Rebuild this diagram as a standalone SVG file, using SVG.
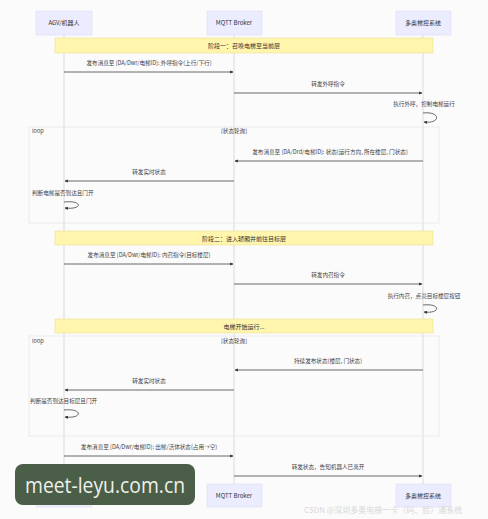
<svg xmlns="http://www.w3.org/2000/svg" width="488" height="519" viewBox="0 0 488 519">
<defs>
<marker id="ah" viewBox="0 0 10 10" refX="9" refY="5" markerWidth="4" markerHeight="4" orient="auto-start-reverse">
<path d="M0,0 L10,5 L0,10 z" fill="#333"/>
</marker>
<style>
text{font-family:"Noto Sans CJK SC","Noto Sans",sans-serif;fill:#333}
.actor rect{fill:#ececff;stroke:#dcdcf5;stroke-width:0.6}
.actor text{font-size:6px;text-anchor:middle}
.life{stroke:#c8c8c8;stroke-width:0.6}
.note rect{fill:#fff5ad;stroke:#e6df9a;stroke-width:0.6}
.note text{font-size:6px;text-anchor:middle}
.msg{stroke:#444;stroke-width:0.8;fill:none;marker-end:url(#ah)}
.lbl{font-size:5.6px;text-anchor:middle;fill:#444}
.lbls{font-size:5.6px;text-anchor:start;fill:#444}
.loopbox{fill:none;stroke:#e4e4e4;stroke-width:0.7}
.ltxt{font-size:5.6px;fill:#444}
.ctr{text-anchor:middle}
</style>
</defs>
<rect width="488" height="519" fill="#fcfbfc"/>
<g id="lifelines">
<line class="life" x1="64" y1="35" x2="64" y2="484"/>
<line class="life" x1="234" y1="35" x2="234" y2="484"/>
<line class="life" x1="423" y1="35" x2="423" y2="484"/>
</g>
<g id="loop1">
<rect class="loopbox" x="29" y="127" width="410" height="96"/>
<text class="ltxt" x="32" y="133">loop</text>
<text class="ltxt ctr" x="234" y="133">[状态轮询]</text>
</g>
<g id="loop2">
<rect class="loopbox" x="29" y="336" width="410" height="100"/>
<text class="ltxt" x="32" y="343">loop</text>
<text class="ltxt ctr" x="234" y="343">[状态轮询]</text>
</g>
<g id="actor-agv-top" class="actor"><rect x="36" y="11" width="56" height="24"/><text x="64" y="25">AGV/机器人</text></g>
<g id="actor-mqtt-top" class="actor"><rect x="207" y="11" width="55" height="24"/><text x="234" y="25">MQTT Broker</text></g>
<g id="actor-elev-top" class="actor"><rect x="396" y="11" width="55" height="24"/><text x="423" y="25">多奥梯控系统</text></g>
<g id="note1" class="note"><rect x="55" y="38" width="378" height="15"/><text x="244" y="48">阶段一：召唤电梯至当前层</text></g>
<g id="note2" class="note"><rect x="55" y="231" width="378" height="14"/><text x="244" y="240.5">阶段二：进入轿厢并前往目标层</text></g>
<g id="note3" class="note"><rect x="55" y="319" width="378" height="14"/><text x="244" y="328.5">电梯开始运行...</text></g>
<g id="connectors">
<line class="msg" x1="64" y1="72" x2="233" y2="72"/>
<line class="msg" x1="234" y1="93" x2="422" y2="93"/>
<path class="msg" d="M423,113 C441,111 441,124 424,122"/>
<line class="msg" x1="423" y1="161" x2="235" y2="161"/>
<line class="msg" x1="234" y1="181" x2="65" y2="181"/>
<path class="msg" d="M64,202 C83,200 83,210 65,208"/>
<line class="msg" x1="64" y1="264" x2="233" y2="264"/>
<line class="msg" x1="234" y1="284" x2="422" y2="284"/>
<path class="msg" d="M423,305 C441,303 441,314 424,312"/>
<line class="msg" x1="423" y1="370" x2="235" y2="370"/>
<line class="msg" x1="234" y1="390" x2="65" y2="390"/>
<path class="msg" d="M64,410 C83,408 83,419 65,417"/>
<line class="msg" x1="64" y1="456" x2="233" y2="456"/>
<line class="msg" x1="234" y1="476" x2="422" y2="476"/>
</g>
<g id="labels">
<text class="lbl" x="149" y="65">发布消息至 [DA/Dwr/电梯ID]: 外呼指令(上行/下行)</text>
<text class="lbl" x="328" y="86">转发外呼指令</text>
<text class="lbl" x="424" y="106">执行外呼，控制电梯运行</text>
<text class="lbl" x="330" y="154">发布消息至 [DA/Drd/电梯ID]: 状态(运行方向, 所在楼层, 门状态)</text>
<text class="lbl" x="149" y="174">转发实时状态</text>
<text class="lbls" x="32" y="195">判断电梯是否到达且门开</text>
<text class="lbl" x="149" y="257">发布消息至 [DA/Dwr/电梯ID]: 内召指令(目标楼层)</text>
<text class="lbl" x="328" y="277">转发内召指令</text>
<text class="lbl" x="424" y="298">执行内召，点亮目标楼层按钮</text>
<text class="lbl" x="328" y="363">持续发布状态(楼层, 门状态)</text>
<text class="lbl" x="149" y="383">转发实时状态</text>
<text class="lbls" x="30" y="403">判断是否到达目标层且门开</text>
<text class="lbl" x="149" y="449">发布消息至 [DA/Dwr/电梯ID]: 出梯/活体状态(占用→空)</text>
<text class="lbl" x="328" y="469">转发状态，告知机器人已离开</text>
</g>
<g id="actor-agv-bottom" class="actor"><rect x="36" y="484" width="56" height="23"/><text x="64" y="497.5">AGV/机器人</text></g>
<g id="actor-mqtt-bottom" class="actor"><rect x="207" y="484" width="55" height="23"/><text x="234" y="497.5">MQTT Broker</text></g>
<g id="actor-elev-bottom" class="actor"><rect x="396" y="484" width="55" height="23"/><text x="423" y="497.5">多奥梯控系统</text></g>
<text x="304" y="513" font-size="8" style="fill:#d8d8d8">CSDN @深圳多奥电梯一卡（码、脸）通系统</text>
<g id="watermark">
<rect x="15" y="464" width="180" height="41" rx="8" fill="#4b5e48"/>
<text x="25" y="493" font-size="22" textLength="160" lengthAdjust="spacingAndGlyphs" style="fill:#eef0ea;font-family:'Open Sans','Noto Sans',sans-serif">meet-leyu.com.cn</text>
</g>
</svg>
